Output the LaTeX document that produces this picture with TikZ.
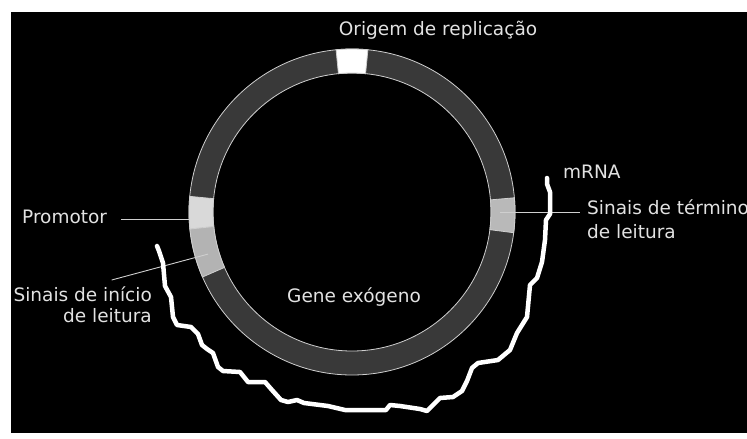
\documentclass[tikz,border=0pt]{standalone}
\usepackage{fontspec}
\setmainfont{DejaVu Sans}
\usetikzlibrary{positioning}

\definecolor{ringgray}{HTML}{393939}
\definecolor{edgegray}{HTML}{CFCFCF}
\definecolor{txtgray}{HTML}{E2E2E2}
\definecolor{promogray}{HTML}{D9D9D9}
\definecolor{startgray}{HTML}{B3B3B3}
\definecolor{stopgray}{HTML}{B9B9B9}

\tikzset{
labeltext/.style={text=txtgray, inner sep=0pt, font=\fontsize{18.5}{21}\selectfont},
leader/.style={draw=edgegray, line width=0.9pt},
mrna/.style={draw=white, line width=4.5pt, line join=round, line cap=round}
}

% one piece of the plasmid ring, between two angles
\newcommand{\ringpart}[3]{%
\filldraw[fill=#3, draw=edgegray, line width=0.8pt] (#1:163) arc (#1:#2:163) -- (#2:139) arc (#2:#1:139) -- cycle;}

\begin{document}
\begin{tikzpicture}[x=1pt,y=-1pt]
\useasboundingbox (0,0) rectangle (747,439);
\fill[white] (0,0) rectangle (747,439);
\fill[black] (11,12) rectangle (747,433);

\begin{scope}[shift={(352,212)}]
\filldraw[fill=ringgray, draw=edgegray, line width=0.8pt, even odd rule] (0,0) circle (163) (0,0) circle (139);
\ringpart{264.4}{275.6}{white}
\ringpart{174}{185.5}{promogray}
\ringpart{156.5}{174}{startgray}
\ringpart{-5}{7.3}{stopgray}
\coordinate (promo-pt) at (177.5:163);
\coordinate (inicio-pt) at (163.7:150);
\coordinate (termino-pt) at (0:148);
\end{scope}

\node[labeltext, anchor=base] (origem) at (438,35) {Origem de replicação};
\node[labeltext, anchor=base west] (promotor) at (22,223) {Promotor};
% two-line labels sit on the baseline of their last line
\node[labeltext, anchor=base east, align=right] (inicio) at (152,322) {Sinais de início\\de leitura};
\node[labeltext, anchor=base] (gene) at (354,302) {Gene exógeno};
\node[labeltext, anchor=base west] (mrnalbl) at (563,178) {mRNA};
\node[labeltext, anchor=base west, align=left] (termino) at (587,238) {Sinais de término\\[3pt]de leitura};

\draw[leader, shorten <=14pt] (promo-pt -| promotor.east) -- (promo-pt);
\draw[leader] ([shift={(29,-6)}]inicio.north) -- (inicio-pt);
\draw[leader, shorten >=7pt] (termino-pt) -- (termino-pt -| termino.west);

% the transcript
\draw[mrna] plot[sharp plot] coordinates {
(157,246) (159,251) (163,263) (165,286) (171,297) (173,317) (177,325)
(191,327) (198,334) (202,345) (207,349) (213,353) (218,367) (223,371)
(240,372) (248,382) (265,382) (272,390) (281,400) (288,402) (297,400)
(304,403) (328,406) (345,410) (386,410) (390,405) (400,406) (420,409)
(427,411) (435,403) (440,398) (453,397) (462,391) (467,381) (472,368)
(478,363) (498,360) (510,350) (517,333) (527,317) (530,285) (537,278)
(542,262) (545,240) (546,220) (550,214) (550,192) (547,184) (547,178)};
\end{tikzpicture}
\end{document}
